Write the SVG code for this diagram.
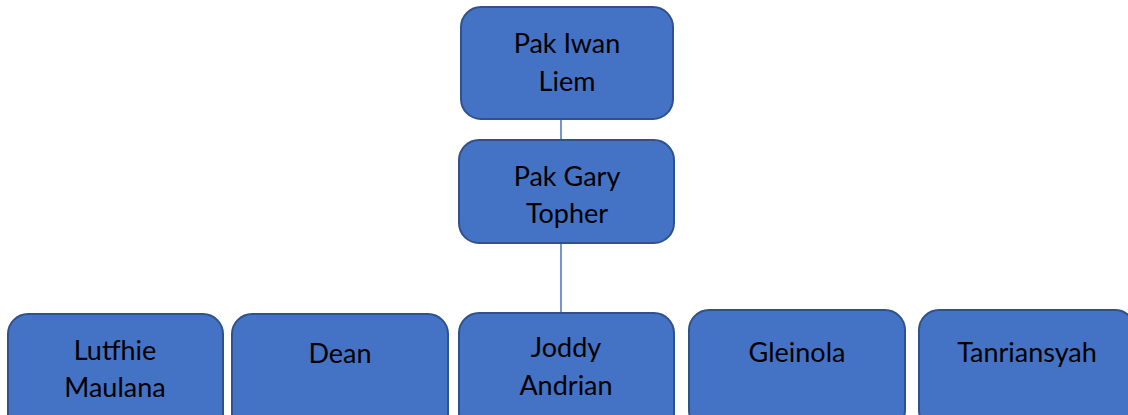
<svg xmlns="http://www.w3.org/2000/svg" width="1128" height="415" viewBox="0 0 1128 415">
<style>
.box{fill:#4472C4;stroke:#2F528F;stroke-width:2}
.lbl{font-family:Lato,"Liberation Sans",sans-serif;font-size:27px;fill:#000;text-anchor:middle}
.conn{stroke:#4472C4;stroke-width:1.5;fill:none}
</style>
<rect width="1128" height="415" fill="#fff"/>
<g id="connectors">
<line class="conn" x1="561" y1="119" x2="561" y2="141"/>
<line class="conn" x1="561" y1="243" x2="561" y2="314"/>
</g>
<g id="n-iwan">
<rect class="box" x="461" y="7" width="212" height="112" rx="20"/>
<text class="lbl" x="567" y="53">Pak Iwan</text>
<text class="lbl" x="567" y="91">Liem</text>
</g>
<g id="n-gary">
<rect class="box" x="459" y="140" width="215" height="103" rx="20"/>
<text class="lbl" x="567" y="186">Pak Gary</text>
<text class="lbl" x="567" y="223">Topher</text>
</g>
<g id="n-lutfhie">
<rect class="box" x="8" y="314" width="215" height="120" rx="20"/>
<text class="lbl" x="115" y="360">Lutfhie</text>
<text class="lbl" x="115" y="397">Maulana</text>
</g>
<g id="n-dean">
<rect class="box" x="232" y="314" width="216" height="120" rx="20"/>
<text class="lbl" x="340" y="363">Dean</text>
</g>
<g id="n-joddy">
<rect class="box" x="459" y="313" width="215" height="120" rx="20"/>
<text class="lbl" x="566" y="357">Joddy</text>
<text class="lbl" x="566" y="395">Andrian</text>
</g>
<g id="n-gleinola">
<rect class="box" x="689" y="310" width="216" height="120" rx="20"/>
<text class="lbl" x="797" y="362">Gleinola</text>
</g>
<g id="n-tanriansyah">
<rect class="box" x="919" y="310" width="216" height="120" rx="20"/>
<text class="lbl" x="1027" y="362">Tanriansyah</text>
</g>
</svg>
